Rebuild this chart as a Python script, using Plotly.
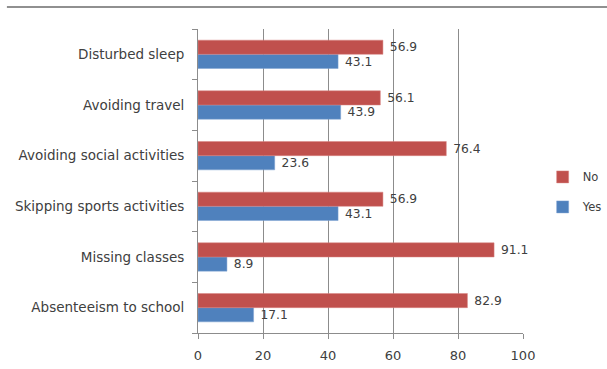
import plotly.graph_objects as go

categories = ["Absenteeism to school", "Missing classes", "Skipping sports activities",
              "Avoiding social activities", "Avoiding travel", "Disturbed sleep"]
no_vals = [82.9, 91.1, 56.9, 76.4, 56.1, 56.9]
yes_vals = [17.1, 8.9, 43.1, 23.6, 43.9, 43.1]
x_ticks = [0, 20, 40, 60, 80, 100]

font_fam = "DejaVu Sans"
txt_col = "#404040"

fig = go.Figure()
fig.add_trace(go.Bar(
    y=categories, x=yes_vals, name="Yes", orientation="h", legendgroup="yes",
    legendrank=2,
    marker=dict(color="#4F81BD", line=dict(color="#7FA3D2", width=0.5)),
    text=[f" {v:.1f}" for v in yes_vals], textposition="outside",
    textfont=dict(family=font_fam, size=13, color=txt_col), cliponaxis=False,
))
fig.add_trace(go.Bar(
    y=categories, x=no_vals, name="No", orientation="h", legendgroup="no",
    legendrank=1,
    marker=dict(color="#C0504D", line=dict(color="#D88583", width=0.5)),
    text=[f" {v:.1f}" for v in no_vals], textposition="outside",
    textfont=dict(family=font_fam, size=13, color=txt_col), cliponaxis=False,
))

fig.update_layout(
    width=607, height=369,
    margin=dict(l=198, r=84, t=29, b=36, autoexpand=False),
    barmode="group", bargap=0.44, bargroupgap=0,
    plot_bgcolor="white", paper_bgcolor="white",
    font=dict(family=font_fam, size=12, color=txt_col),
    showlegend=True,
    legend=dict(xref="container", yref="container", x=0.894, y=0.48,
                xanchor="left", yanchor="middle",
                traceorder="grouped", font=dict(size=11.5, color=txt_col),
                itemwidth=30, tracegroupgap=11, bgcolor="rgba(0,0,0,0)"),
    xaxis=dict(range=[0, 100], tickvals=x_ticks, showgrid=True,
               gridcolor="#8C8C8C", gridwidth=1, showline=True,
               linecolor="#8C8C8C", ticks="outside", ticklen=5,
               tickcolor="#8C8C8C", zeroline=False, ticklabelstandoff=5,
               tickfont=dict(size=13, color=txt_col)),
    yaxis=dict(type="category", showline=True, linecolor="#8C8C8C",
               ticks="outside", tickson="boundaries", ticklen=5,
               tickcolor="#8C8C8C", showgrid=False, ticklabelstandoff=10,
               tickfont=dict(size=13.5, color=txt_col)),
    shapes=[dict(type="line", xref="paper", yref="paper",
                 x0=-0.588, x1=1.3, y0=1.072, y1=1.072,
                 line=dict(color="#909090", width=2))],
)

fig.write_html("out.html")
